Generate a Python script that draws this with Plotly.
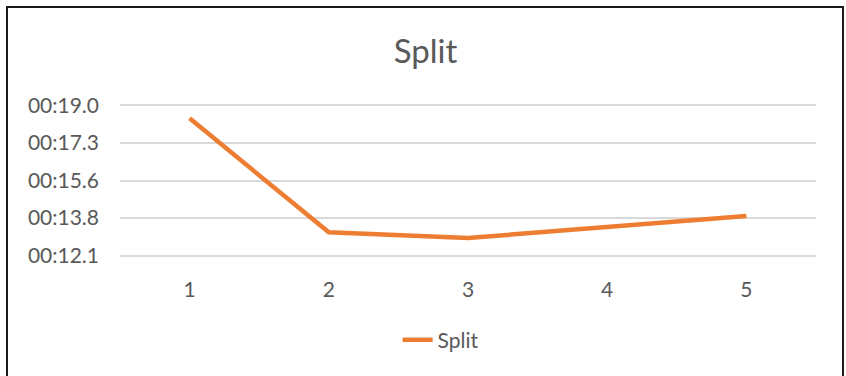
import plotly.graph_objects as go

# Split times per lap, in seconds
laps = [1, 2, 3, 4, 5]
split_seconds = [18.41, 13.17, 12.91, 13.42, 13.92]

# Value axis ticks (seconds) and their mm:ss.s labels
y_tick_values = [12.096, 13.824, 15.552, 17.28, 19.008]
y_tick_labels = ["00:12.1", "00:13.8", "00:15.6", "00:17.3", "00:19.0"]

W, H = 846, 376
M_L, M_R, M_T, M_B = 120, 30, 104, 119

FONT = "Lato, 'Open Sans', sans-serif"
TEXT = "#595959"
ORANGE = "#ED7D31"

fig = go.Figure()
fig.add_trace(go.Scatter(
    x=laps,
    y=split_seconds,
    mode="lines",
    name="Split",
    line=dict(color=ORANGE, width=4.5),
))

# Chart-area border (runs past the bottom of the page)
plot_w = W - M_L - M_R
plot_h = H - M_T - M_B
def px_x(px):
    return (px - M_L) / plot_w
def px_y(py):
    return (H - M_B - py) / plot_h

fig.add_shape(
    type="rect", xref="paper", yref="paper",
    x0=px_x(7), x1=px_x(843), y0=px_y(400), y1=px_y(7),
    line=dict(color="#1a1a1a", width=2), fillcolor="rgba(0,0,0,0)",
    layer="above",
)

fig.update_layout(
    width=W, height=H,
    margin=dict(l=M_L, r=M_R, t=M_T, b=M_B),
    paper_bgcolor="white", plot_bgcolor="white",
    font=dict(family=FONT, color=TEXT, size=21),
    title=dict(
        text="Split", x=0.503, xref="container", xanchor="center",
        y=1 - 51 / H, yref="container", yanchor="middle",
        font=dict(family=FONT, size=33, color=TEXT),
    ),
    showlegend=True,
    legend=dict(
        orientation="h", x=0.47, xref="container", xanchor="left",
        y=1 - 340 / H, yref="container", yanchor="middle",
        font=dict(family=FONT, size=21, color=TEXT),
        bgcolor="rgba(0,0,0,0)",
    ),
    xaxis=dict(
        range=[0.5, 5.5], tickmode="array", tickvals=laps,
        ticktext=[str(v) for v in laps],
        showgrid=False, zeroline=False, showline=False, ticks="",
        ticklabelstandoff=18,
        tickfont=dict(family=FONT, size=21, color=TEXT),
    ),
    yaxis=dict(
        range=[12.036, 19.068], tickmode="array",
        tickvals=y_tick_values, ticktext=y_tick_labels,
        showgrid=True, gridcolor="#D9D9D9", gridwidth=1.5,
        zeroline=False, showline=False, ticks="",
        ticklabelstandoff=20,
        tickfont=dict(family=FONT, size=21, color=TEXT),
    ),
)

fig.write_html("out.html")
